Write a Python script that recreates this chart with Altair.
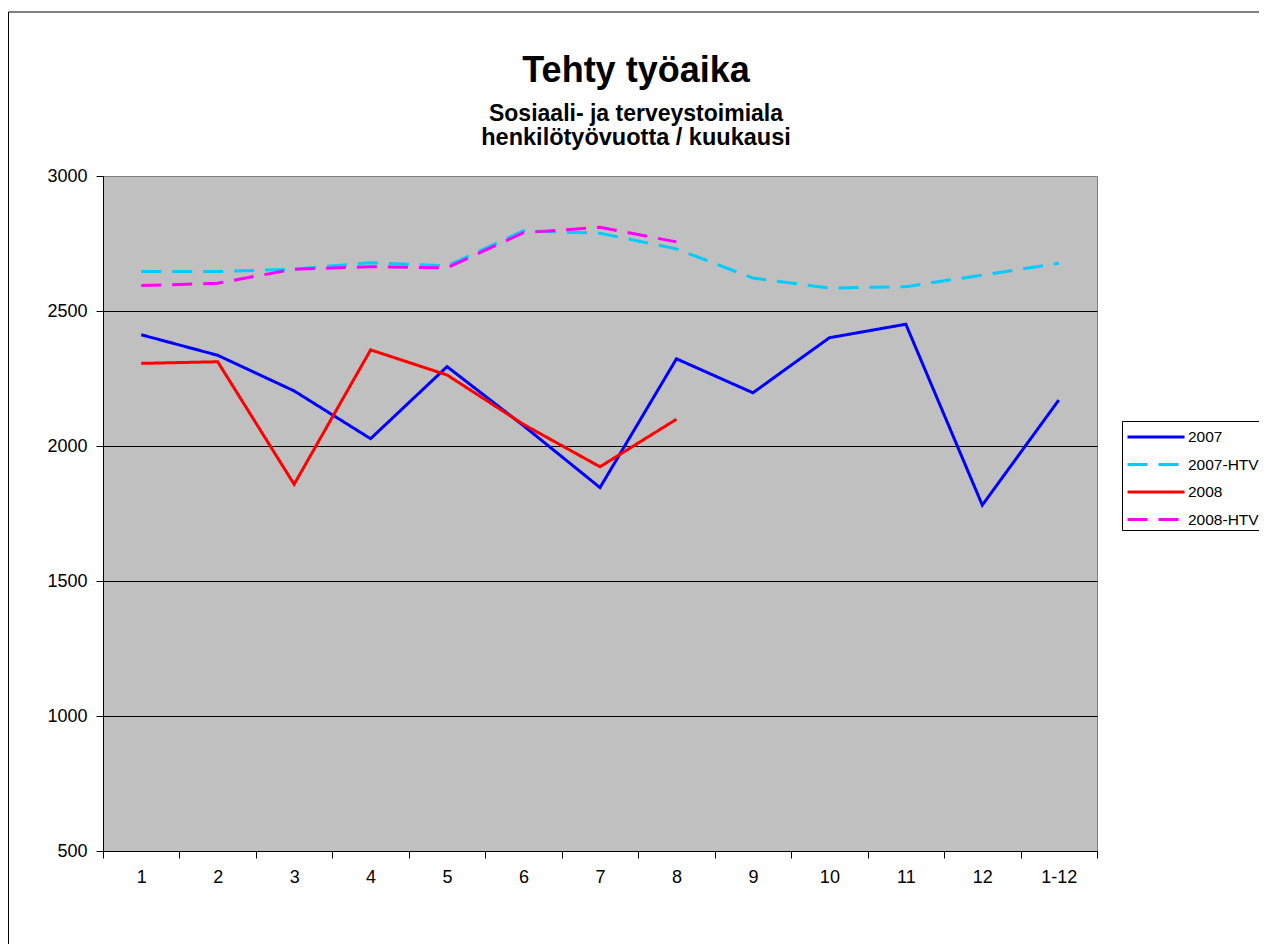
import altair as alt
import pandas as pd

months = ["1", "2", "3", "4", "5", "6", "7", "8", "9", "10", "11", "12", "1-12"]
series_names = ["2007", "2007-HTV2", "2008", "2008-HTV2"]
v2007 = [2412, 2336, 2204, 2027, 2294, 2075, 1846, 2323, 2197, 2401, 2451, 1781, 2170]
v2007_htv = [2646, 2646, 2655, 2679, 2667, 2797, 2788, 2730, 2622, 2585, 2590, 2633, 2677]
v2008 = [2306, 2312, 1858, 2356, 2263, 2080, 1923, 2099, None, None, None, None, None]
v2008_htv = [2594, 2603, 2655, 2664, 2660, 2790, 2810, 2756, None, None, None, None, None]
y_ticks = [500, 1000, 1500, 2000, 2500, 3000]
title_text = "Tehty työaika"
subtitle_lines = ["Sosiaali- ja terveystoimiala", "henkilötyövuotta / kuukausi"]

colors = ["#0000FF", "#00CCFF", "#FF0000", "#FF00FF"]
dashes = [[1, 0], [20, 11], [1, 0], [20, 11]]

rows = []
for name, vals in zip(series_names, [v2007, v2007_htv, v2008, v2008_htv]):
    for i, (m, v) in enumerate(zip(months, vals)):
        if v is not None:
            rows.append({"kk": m, "i": i, "arvo": v, "sarja": name})
df = pd.DataFrame(rows)

FONT = "Liberation Sans"
W, H = 994, 675

legend_kw = dict(title=None, orient="none", legendX=1019, legendY=245,
                 symbolType="M-0.884,-0.286H2.374", symbolStrokeWidth=3, symbolSize=1225,
                 labelFont=FONT, labelFontSize=15.5, labelColor="black",
                 labelBaseline="alphabetic",
                 strokeColor="black", fillColor="white", padding=2,
                 rowPadding=4.5, labelLimit=400, labelOffset=26)

lines = alt.Chart(df).mark_line(strokeWidth=3, clip=False).encode(
    x=alt.X("kk:N", sort=months,
            scale=alt.Scale(type="band", paddingInner=0, paddingOuter=0),
            axis=alt.Axis(title=None, labelAngle=0, tickBand="extent", tickSize=7,
                          tickColor="black", domainColor="black", labelFont=FONT,
                          labelFontSize=18, labelColor="black", labelPadding=10,
                          grid=False)),
    y=alt.Y("arvo:Q", scale=alt.Scale(domain=[500, 3000], nice=False, zero=False),
            axis=alt.Axis(title=None, values=y_ticks, format="d", tickSize=7,
                          tickColor="black", domainColor="black", labelFont=FONT,
                          labelFontSize=18, labelColor="black", labelPadding=9,
                          grid=True,
                          gridColor=alt.condition("datum.value == 3000", alt.value("#808080"), alt.value("black")),
                          gridWidth=1)),
    color=alt.Color("sarja:N", scale=alt.Scale(domain=series_names, range=colors),
                    legend=alt.Legend(**legend_kw)),
    strokeDash=alt.StrokeDash("sarja:N", scale=alt.Scale(domain=series_names, range=dashes),
                              legend=alt.Legend(**legend_kw)),
    order=alt.Order("i:Q"),
)

one = pd.DataFrame({"f": [0]})
frame_left = alt.Chart(one).mark_rule(color="black", strokeWidth=1, clip=False).encode(
    x=alt.value(-94.5), y=alt.value(-164), y2=alt.value(900)
)
frame_top = alt.Chart(one).mark_rule(color="black", strokeWidth=1, clip=False).encode(
    x=alt.value(-94.5), x2=alt.value(1200), y=alt.value(-164)
)

title_mark = alt.Chart(one).mark_text(
    text=title_text, font=FONT, fontSize=36, fontWeight="bold", color="black",
    align="center", baseline="alphabetic", clip=False
).encode(x=alt.value(533), y=alt.value(-94))
sub1 = alt.Chart(one).mark_text(
    text=subtitle_lines[0], font=FONT, fontSize=23, fontWeight="bold", color="black",
    align="center", baseline="alphabetic", clip=False
).encode(x=alt.value(533), y=alt.value(-55))
sub2 = alt.Chart(one).mark_text(
    text=subtitle_lines[1], font=FONT, fontSize=23.5, fontWeight="bold", color="black",
    align="center", baseline="alphabetic", clip=False
).encode(x=alt.value(533), y=alt.value(-31))

chart = alt.layer(lines, frame_left, frame_top, title_mark, sub1, sub2).properties(
    width=W, height=H,
    padding={"left": 95, "top": 168, "right": 162, "bottom": 93},
    autosize=alt.AutoSizeParams(type="none"),
    background="white",
).configure_view(
    fill="#C0C0C0", stroke="#808080", strokeWidth=1
)

chart.save("out.html", embed_options={"renderer": "svg", "actions": False})
